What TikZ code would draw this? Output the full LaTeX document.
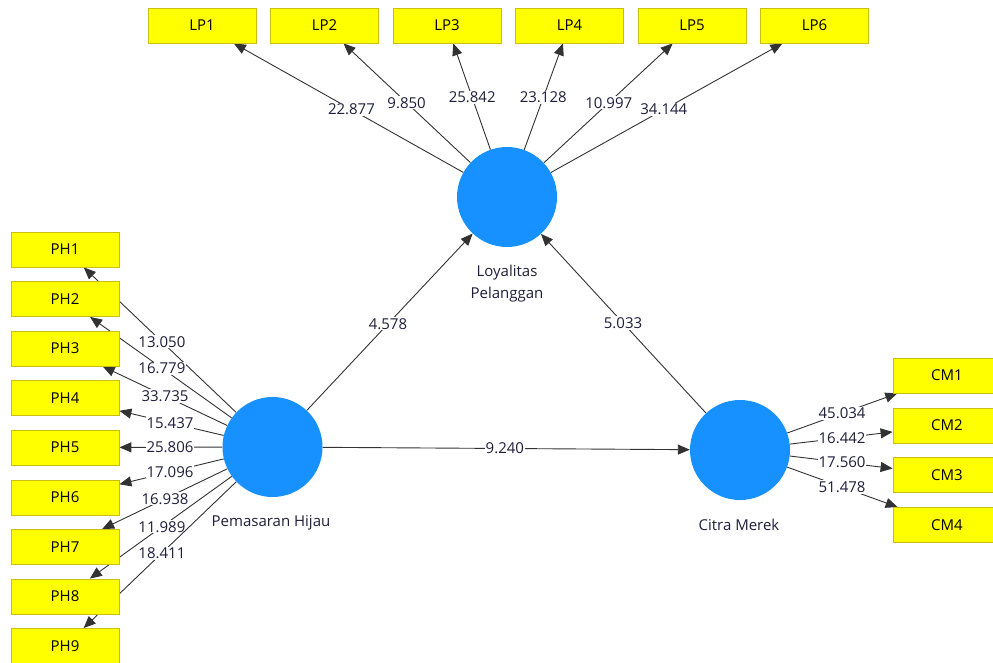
\documentclass[tikz,border=0pt]{standalone}
\usepackage{fontspec}
\setmainfont{Open Sans}
\usetikzlibrary{arrows.meta,calc,backgrounds}
\definecolor{boxfill}{RGB}{255,255,0}
\definecolor{boxline}{RGB}{200,190,20}
\definecolor{lvfill}{RGB}{22,145,255}
\definecolor{edgecol}{RGB}{50,50,50}
\definecolor{numcol}{RGB}{30,30,60}
\begin{document}
\begin{tikzpicture}[x=1pt,y=-1pt,
  ind/.style={draw=boxline,fill=boxfill,line width=0.8pt,minimum width=108pt,minimum height=35pt,inner sep=0pt,font=\fontsize{15}{18}\selectfont,text=black},
  lv/.style={circle,fill=lvfill,minimum size=100pt,inner sep=0pt},
  load/.style={draw=edgecol,line width=0.9pt,-{Triangle[length=12pt,width=10pt]}},
  num/.style={fill=white,inner sep=1pt,font=\fontsize{15}{18}\selectfont,text=numcol},
  lvname/.style={font=\fontsize{15}{22}\selectfont,text=numcol,align=center}]
\useasboundingbox (0,0) rectangle (993,663);
% latent variables
\node[lv] (LP) at (507,197) {};
\node[lv] (PH) at (272.5,447) {};
\node[lv] (CM) at (740,450) {};
\node[lvname] (lpname) at (507,284) {Loyalitas\\Pelanggan};
\node[lvname] (phname) at (271,523) {Pemasaran Hijau};
\node[lvname] (cmname) at (739,525) {Citra Merek};
% indicators
\foreach \i/\x in {1/202,2/324.5,3/447,4/569.5,5/692,6/814.5}
  \node[ind] (lp\i) at (\x,25.5) {LP\i};
\foreach \i/\y in {1/249.5,2/299,3/348.5,4/398,5/447.5,6/497.5,7/547,8/596.5,9/646}
  \node[ind] (ph\i) at (65,\y) {PH\i};
\foreach \i/\y in {1/375.5,2/425.5,3/475,4/525}
  \node[ind] (cm\i) at (947,\y) {CM\i};
% connectors
\begin{scope}[on background layer]
\foreach \i/\t/\v in {1/0.51/22.877,2/0.55/9.850,3/0.58/25.842,4/0.58/23.128,5/0.55/10.997,6/0.51/34.144}{
  \draw[load] (LP) -- (lp\i);
  \node[num] at ($(LP)!\t!(lp\i)$) {\v};
}
\foreach \i/\t/\v in {1/0.533/13.050,2/0.533/16.779,3/0.518/33.735,4/0.494/15.437,5/0.494/25.806,6/0.494/17.096,7/0.518/16.938,8/0.533/11.989,9/0.533/18.411}{
  \draw[load] (PH) -- (ph\i);
  \node[num] at ($(PH)!\t!(ph\i)$) {\v};
}
\foreach \i/\v in {1/45.034,2/16.442,3/17.560,4/51.478}{
  \draw[load] (CM) -- (cm\i);
  \node[num] at ($(CM)!0.493!(cm\i)$) {\v};
}
\draw[load] (PH) -- (LP);
\node[num] at ($(PH)!0.4925!(LP)$) {4.578};
\draw[load] (CM) -- (LP);
\node[num] at ($(CM)!0.502!(LP)$) {5.033};
\draw[load] (PH) -- (CM);
\node[num] at ($(PH)!0.497!(CM)$) {9.240};
\end{scope}
\end{tikzpicture}
\end{document}
